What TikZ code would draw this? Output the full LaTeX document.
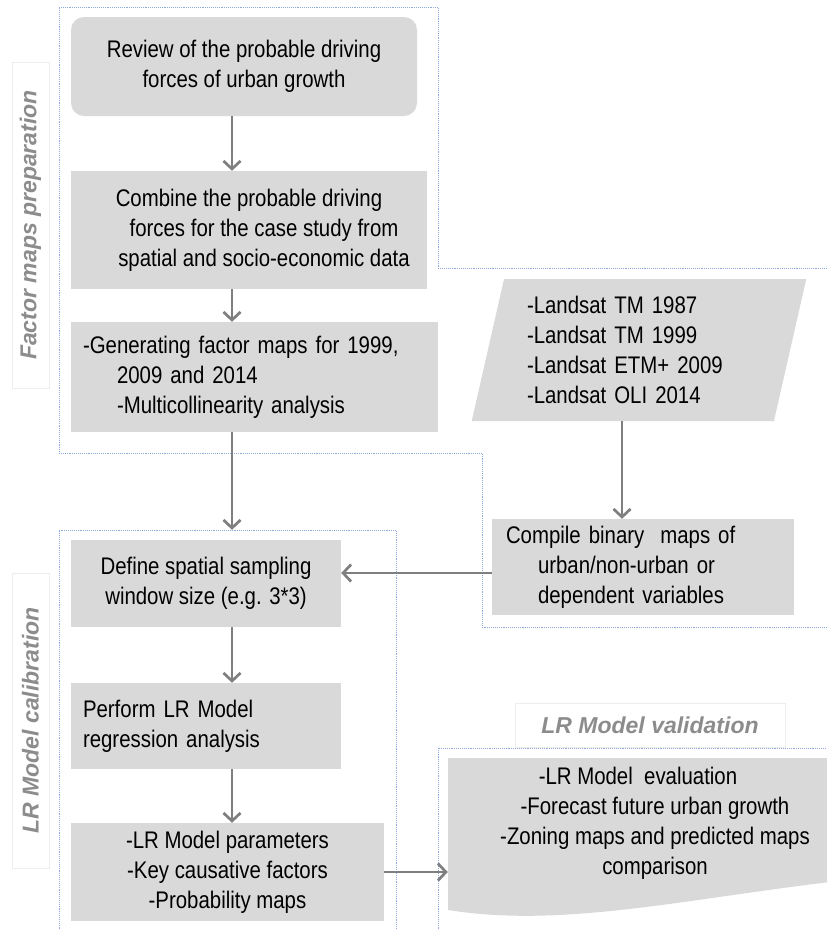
\documentclass[tikz,border=0pt]{standalone}
\usepackage{fontspec}
\setmainfont{Liberation Sans}[FakeStretch=0.85]
\newfontfamily\sidefont{Liberation Sans}
\usetikzlibrary{arrows.meta,shapes.geometric}
\definecolor{boxgray}{HTML}{D9D9D9}
\definecolor{arrowgray}{HTML}{7F7F7F}
\definecolor{frameblue}{HTML}{8EA9DB}
\definecolor{labelgray}{HTML}{8C8C8C}
\definecolor{labelline}{HTML}{EDEDED}

\begin{document}
\begin{tikzpicture}[x=1pt, y=-1pt,
    stepbox/.style={fill=boxgray, inner sep=0pt, align=center, font=\fontsize{24}{30}\selectfont},
    flow/.style={draw=arrowgray, line width=2.7pt, -{Straight Barb[length=8pt,width=17pt]}},
    frame/.style={draw=frameblue, line width=0.9pt, densely dotted},
    sidelabel/.style={draw=labelline, fill=white, text=labelgray, inner sep=0pt,
        font=\sidefont\bfseries\itshape\fontsize{23}{28}\selectfont}]
    \useasboundingbox (0,0) rectangle (827,930);

    % Dotted frames of the three stages
    \draw[frame] (59,7) -- (438,7) -- (438,268) -- (830,268) -- (830,627) -- (482,627) -- (482,453) -- (59,453) -- cycle;
    \draw[frame] (59,935) -- (59,530) -- (396,530) -- (396,935);
    \draw[frame] (438,935) -- (438,748) -- (830,748);

    % Stage titles
    \node[sidelabel, rotate=90, minimum width=326pt, minimum height=37pt] (prep) at (30.5,225) {Factor maps preparation};
    \node[sidelabel, rotate=90, minimum width=295pt, minimum height=37pt] (calib) at (30.5,720.5) {LR Model calibration};
    \node[sidelabel, minimum width=270pt, minimum height=44pt] (valtitle) at (650,725) {LR Model validation};

    % Factor maps preparation
    \node[stepbox, rounded corners=13pt, minimum width=346pt, minimum height=99pt] (review) at (244,66.5)
        {Review of the probable driving\\forces of urban growth};
    \node[stepbox, minimum width=356pt, minimum height=118pt] (combine) at (249,230)
        {Combine the probable driving\\\hspace*{30pt}forces for the case study from\\\hspace*{30pt}spatial and socio-economic data};
    \node[stepbox, align=left, text width=343pt, inner xsep=12pt, minimum height=110pt] (factor) at (254.5,377)
        {-Generating factor maps for 1999,\\\hspace*{34pt}2009 and 2014\\\hspace*{34pt}-Multicollinearity analysis};

    % Satellite data
    \node[stepbox, trapezium, trapezium left angle=76, trapezium right angle=104, trapezium stretches=true,
        minimum width=336pt, minimum height=142pt, align=left, text width=224pt] (landsat) at (639,350)
        {-Landsat TM 1987\\-Landsat TM 1999\\-Landsat ETM+ 2009\\-Landsat OLI 2014};
    \node[stepbox, align=left, text width=274pt, inner xsep=14pt, minimum height=96pt] (compile) at (643,567)
        {Compile binary \ maps of\\\hspace*{32pt}urban/non-urban or\\\hspace*{32pt}dependent variables};

    % LR Model calibration
    \node[stepbox, minimum width=270pt, minimum height=87pt] (define) at (206,583.5)
        {Define spatial sampling\\window size (e.g. 3*3)};
    \node[stepbox, align=left, text width=246pt, inner xsep=12pt, minimum height=86pt] (perform) at (206,726)
        {Perform LR Model\\regression analysis};
    \node[stepbox, minimum width=313pt, minimum height=98pt] (params) at (227.5,872)
        {-LR Model parameters\\-Key causative factors\\-Probability maps};

    % LR Model validation
    \fill[boxgray] (448,758) -- (830,758) -- (830,882) .. controls (680,900) and (560,928) .. (448,910) -- cycle;
    \node[stepbox, fill=none, minimum width=414pt, minimum height=130pt] (valid) at (655,823)
        {-LR Model \ evaluation\hspace*{34pt}\\-Forecast future urban growth\\-Zoning maps and predicted maps\\comparison};

    % Arrows
    \coordinate (col) at (232,0);
    \coordinate (lcol) at (622,0);
    \coordinate (cin) at (0,573);
    \draw[flow] (review.south -| col) -- (combine.north -| col);
    \draw[flow] (combine.south -| col) -- (factor.north -| col);
    \draw[flow, shorten >=10pt] (factor.south -| col) -- (define.north -| col);
    \draw[flow] (define.south -| col) -- (perform.north -| col);
    \draw[flow] (perform.south -| col) -- (params.north -| col);
    \draw[flow] (landsat.south -| lcol) -- (compile.north -| lcol);
    \draw[flow] (compile.west |- cin) -- (define.east |- cin);
    \draw[flow] (params.east) -- (params.east -| valid.west);
\end{tikzpicture}
\end{document}
